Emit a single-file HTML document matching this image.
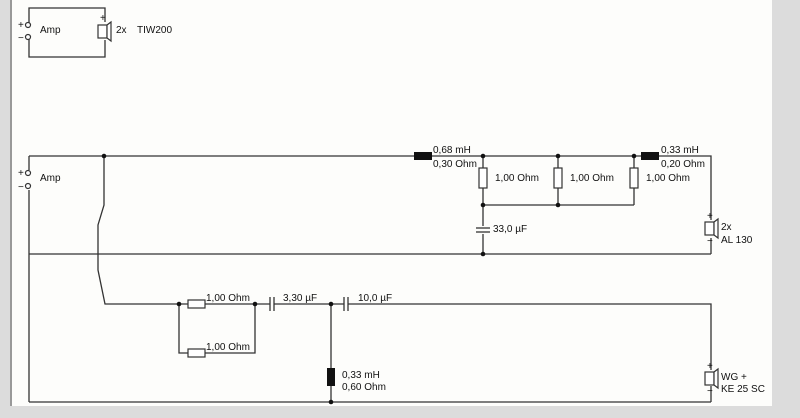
<!DOCTYPE html>
<html><head><style>
body{margin:0;width:800px;height:418px;background:#dcdcdc;overflow:hidden}
svg{display:block}
text{font-family:"Liberation Sans",sans-serif;font-size:10px;fill:#111}
</style></head><body>
<svg width="800" height="418" viewBox="0 0 800 418">
<rect x="12" y="0" width="760" height="406" fill="#fdfdfb"/>
<line x1="11" y1="0" x2="11" y2="406" stroke="#999" stroke-width="2"/>
<g stroke="#333" stroke-width="1.3" fill="none">
<!-- top block -->
<polyline points="29,25 29,8 105,8 105,22"/>
<polyline points="29,37 29,57 105,57 105,40"/>
<!-- main -->
<line x1="29" y1="156" x2="414" y2="156"/>
<line x1="432" y1="156" x2="641" y2="156"/>
<polyline points="659,156 711,156 711,220"/>
<line x1="711" y1="238" x2="711" y2="254"/>
<line x1="29" y1="156" x2="29" y2="170"/>
<line x1="29" y1="190" x2="29" y2="402"/>
<line x1="29" y1="254" x2="711" y2="254"/>
<line x1="29" y1="402" x2="711" y2="402"/>
<polyline points="104,156 104,205 98,225 98,270 105,304 188,304"/>
<line x1="483" y1="156" x2="483" y2="226"/>
<line x1="483" y1="234" x2="483" y2="254"/>
<line x1="558" y1="156" x2="558" y2="205"/>
<line x1="634" y1="156" x2="634" y2="205"/>
<line x1="483" y1="205" x2="634" y2="205"/>
<line x1="205" y1="304" x2="270" y2="304"/>
<line x1="274" y1="304" x2="344" y2="304"/>
<polyline points="348,304 711,304 711,370"/>
<line x1="711" y1="386" x2="711" y2="402"/>
<polyline points="179,304 179,353 188,353"/>
<polyline points="205,353 255,353 255,304"/>
<line x1="331" y1="304" x2="331" y2="402"/>
<!-- caps -->
<line x1="476" y1="228" x2="490" y2="228"/><line x1="476" y1="232" x2="490" y2="232"/>
<line x1="270" y1="297" x2="270" y2="311"/><line x1="274" y1="297" x2="274" y2="311"/>
<line x1="344" y1="297" x2="344" y2="311"/><line x1="348" y1="297" x2="348" y2="311"/>
</g>
<g stroke="#333" stroke-width="1.2" fill="#fff">
<rect x="479" y="168" width="8" height="20"/>
<rect x="554" y="168" width="8" height="20"/>
<rect x="630" y="168" width="8" height="20"/>
<rect x="188" y="300" width="17" height="8"/>
<rect x="188" y="349" width="17" height="8"/>
<!-- speakers -->
<rect x="98" y="25" width="9" height="13"/><polygon points="107,25 111,22 111,41 107,38"/>
<rect x="705" y="222" width="9" height="13"/><polygon points="714,222 718,219 718,238 714,235"/>
<rect x="705" y="372" width="9" height="13"/><polygon points="714,372 718,369 718,388 714,385"/>
<circle cx="28" cy="25" r="2.5"/><circle cx="28" cy="37" r="2.5"/>
<circle cx="28" cy="173" r="2.5"/><circle cx="28" cy="186" r="2.5"/>
</g>
<g fill="#111">
<rect x="414" y="152" width="18" height="8"/>
<rect x="641" y="152" width="18" height="8"/>
<rect x="327" y="368" width="8" height="18"/>
<circle cx="104" cy="156" r="2.3"/><circle cx="483" cy="156" r="2.3"/><circle cx="558" cy="156" r="2.3"/><circle cx="634" cy="156" r="2.3"/>
<circle cx="483" cy="205" r="2.3"/><circle cx="558" cy="205" r="2.3"/><circle cx="483" cy="254" r="2.3"/>
<circle cx="179" cy="304" r="2.3"/><circle cx="255" cy="304" r="2.3"/><circle cx="331" cy="304" r="2.3"/><circle cx="331" cy="402" r="2.3"/>
</g>
<text x="18" y="28">+</text><text x="18" y="41">−</text><text x="40" y="33">Amp</text>
<text x="100" y="21" font-size="8">+</text>
<text x="116" y="33">2x</text><text x="137" y="33">TIW200</text>
<text x="18" y="176">+</text><text x="18" y="190">−</text><text x="40" y="181">Amp</text>
<text x="433" y="153">0,68 mH</text><text x="433" y="167">0,30 Ohm</text>
<text x="661" y="153">0,33 mH</text><text x="661" y="167">0,20 Ohm</text>
<text x="495" y="181">1,00 Ohm</text><text x="570" y="181">1,00 Ohm</text><text x="646" y="181">1,00 Ohm</text>
<text x="493" y="232">33,0 µF</text>
<text x="721" y="230">2x</text><text x="721" y="243">AL 130</text>
<text x="707" y="219" font-size="8">+</text><text x="707" y="244" font-size="8">−</text>
<text x="206" y="301">1,00 Ohm</text><text x="206" y="350">1,00 Ohm</text>
<text x="283" y="301">3,30 µF</text><text x="358" y="301">10,0 µF</text>
<text x="342" y="378">0,33 mH</text><text x="342" y="390">0,60 Ohm</text>
<text x="721" y="380">WG +</text><text x="721" y="392">KE 25 SC</text>
<text x="707" y="369" font-size="8">+</text><text x="707" y="394" font-size="8">−</text>
</svg>
</body></html>
